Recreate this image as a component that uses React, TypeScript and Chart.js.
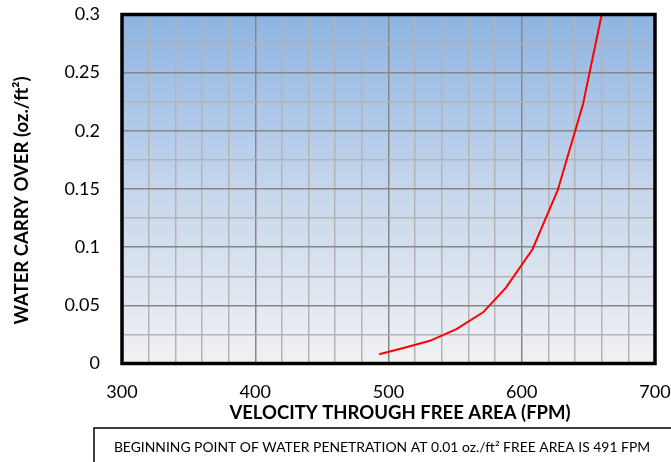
import { useEffect, useRef } from "react";
import { Chart, registerables } from "chart.js";

Chart.register(...registerables);

// ---- data ----
const velocityFpm = [493, 512, 531, 551, 571, 588, 608, 627, 646, 660];
const carryOver = [0.008, 0.0135, 0.0195, 0.0295, 0.044, 0.065, 0.098, 0.149, 0.223, 0.3];
const xTickLabels = ["300", "400", "500", "600", "700"];
const yTickLabels = ["0", "0.05", "0.1", "0.15", "0.2", "0.25", "0.3"];
const xAxisTitle = "VELOCITY THROUGH FREE AREA (FPM)";
const yAxisTitle = "WATER CARRY OVER (oz./ft²)";
const noteText = "BEGINNING POINT OF WATER PENETRATION AT 0.01 oz./ft² FREE AREA IS 491 FPM";

const FONT = "Lato, 'Open Sans', sans-serif";

const decorPlugin = {
  id: "decor",
  beforeDraw(chart: any) {
    const { ctx, chartArea: a } = chart;
    ctx.save();
    const g = ctx.createLinearGradient(0, a.top, 0, a.bottom);
    g.addColorStop(0, "#8db4e2");
    g.addColorStop(0.5, "#c6d6ec");
    g.addColorStop(1, "#f1f1f3");
    ctx.fillStyle = g;
    ctx.fillRect(a.left, a.top, a.right - a.left, a.bottom - a.top);
    ctx.restore();
  },
  afterDraw(chart: any) {
    const { ctx, chartArea: a } = chart;
    ctx.save();
    // frame
    ctx.strokeStyle = "#000";
    ctx.lineWidth = 3.5;
    ctx.strokeRect(a.left, a.top, a.right - a.left, a.bottom - a.top);
    // axis titles
    ctx.fillStyle = "#000";
    ctx.textAlign = "center";
    ctx.textBaseline = "middle";
    ctx.font = `bold 18.5px ${FONT}`;
    ctx.fillText(xAxisTitle, 400, 413);
    ctx.save();
    ctx.translate(22, 200.5);
    ctx.rotate(-Math.PI / 2);
    ctx.fillText(yAxisTitle, 0, 0);
    ctx.restore();
    // note box
    ctx.lineWidth = 1.5;
    ctx.strokeRect(94, 428, 700, 60);
    ctx.font = `13.9px ${FONT}`;
    ctx.fillText(noteText, 382, 448);
    ctx.restore();
  },
};

export default function App() {
  const ref = useRef<HTMLCanvasElement | null>(null);
  useEffect(() => {
    document.body.style.margin = "0";
    const canvas = ref.current!;
    const chart = new Chart(canvas, {
      type: "line",
      data: {
        datasets: [
          {
            data: velocityFpm.map((x, i) => ({ x, y: carryOver[i] })),
            borderColor: "#ff0000",
            borderWidth: 2,
            pointRadius: 0,
            tension: 0,
            fill: false,
          },
        ],
      },
      options: {
        animation: false,
        responsive: false,
        devicePixelRatio: 1,
        layout: { padding: { left: 0, right: 16, top: 14.5, bottom: 0 } },
        plugins: { legend: { display: false }, tooltip: { enabled: false } },
        scales: {
          x: {
            type: "linear",
            min: 300,
            max: 700,
            afterFit: (s: any) => {
              s.height = 98.5;
            },
            border: { display: false },
            grid: {
              drawTicks: true,
              tickLength: 18,
              tickColor: "rgba(0,0,0,0)",
              lineWidth: 1.5,
              color: (c: any) => (c.tick && Math.round(c.tick.value) % 100 === 0 ? "#878787" : "#b3b3b3"),
            },
            ticks: {
              stepSize: 20,
              autoSkip: false,
              maxRotation: 0,
              padding: 0,
              color: "#000",
              font: { family: FONT, size: 18 },
              callback: (v: any) => {
                const n = Math.round(Number(v));
                if (n % 100 !== 0) return "";
                return xTickLabels[(n - 300) / 100] ?? "";
              },
            },
          },
          y: {
            type: "linear",
            min: 0,
            max: 0.3,
            afterFit: (s: any) => {
              s.width = 122;
            },
            border: { display: false },
            grid: {
              drawTicks: true,
              tickLength: 22,
              tickColor: "rgba(0,0,0,0)",
              lineWidth: 1.5,
              color: (c: any) =>
                c.tick && Math.round(c.tick.value * 1000) % 50 === 0 ? "#878787" : "#b3b3b3",
            },
            ticks: {
              stepSize: 0.025,
              autoSkip: false,
              padding: 0,
              color: "#000",
              font: { family: FONT, size: 18 },
              callback: (v: any) => {
                const k = Math.round(Number(v) * 1000);
                if (k % 50 !== 0) return "";
                return yTickLabels[k / 50] ?? "";
              },
            },
          },
        },
      },
      plugins: [decorPlugin],
    });
    return () => chart.destroy();
  }, []);
  return <canvas ref={ref} width={671} height={462} style={{ display: "block", width: 671, height: 462 }} />;
}
